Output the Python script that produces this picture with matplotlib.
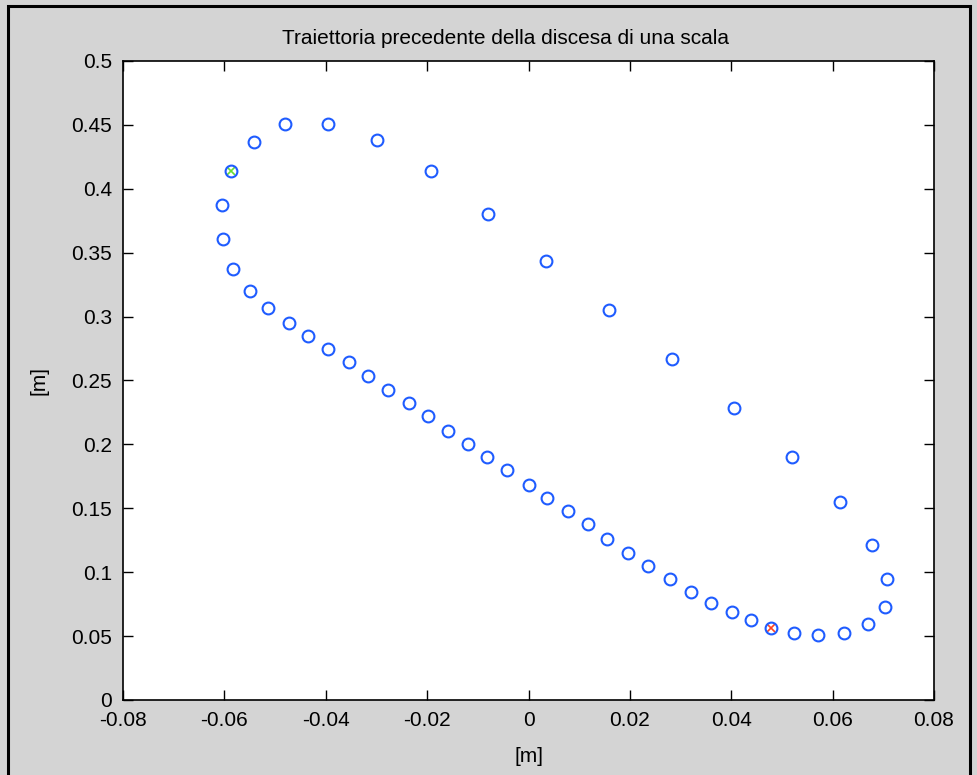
import matplotlib.pyplot as plt
from matplotlib.patches import Rectangle

plt.rcParams['font.family'] = ['Liberation Sans', 'DejaVu Sans']
plt.rcParams['axes.unicode_minus'] = False

# trajectory points, [m]; first one is the green start, index 20 the red one
x_m = [-0.0587, -0.0542, -0.0480, -0.0396, -0.0299, -0.0192, -0.0080, 0.0035,
       0.0159, 0.0283, 0.0405, 0.0519, 0.0615, 0.0678, 0.0707, 0.0703,
       0.0670, 0.0622, 0.0571, 0.0523, 0.0478, 0.0438, 0.0401, 0.0361,
       0.0320, 0.0279, 0.0236, 0.0196, 0.0155, 0.0118, 0.0077, 0.0037,
       0.0000, -0.0042, -0.0082, -0.0119, -0.0159, -0.0199, -0.0236, -0.0277,
       -0.0317, -0.0355, -0.0395, -0.0436, -0.0473, -0.0513, -0.0550, -0.0583,
       -0.0602, -0.0605]
y_m = [0.4139, 0.4369, 0.4505, 0.4505, 0.4384, 0.4139, 0.3803, 0.3435,
       0.3052, 0.2668, 0.2285, 0.1899, 0.1549, 0.1210, 0.0949, 0.0730,
       0.0597, 0.0527, 0.0511, 0.0527, 0.0567, 0.0626, 0.0686, 0.0759,
       0.0847, 0.0947, 0.1051, 0.1153, 0.1257, 0.1375, 0.1477, 0.1578,
       0.1680, 0.1800, 0.1899, 0.2003, 0.2105, 0.2222, 0.2324, 0.2426,
       0.2535, 0.2645, 0.2746, 0.2851, 0.2952, 0.3070, 0.3203, 0.3375,
       0.3607, 0.3872]
start_idx = 0
end_idx = 20

xticks = [-0.08, -0.06, -0.04, -0.02, 0, 0.02, 0.04, 0.06, 0.08]
xtick_labels = ['-0.08', '-0.06', '-0.04', '-0.02', '0', '0.02', '0.04', '0.06', '0.08']
yticks = [0, 0.05, 0.1, 0.15, 0.2, 0.25, 0.3, 0.35, 0.4, 0.45, 0.5]
ytick_labels = ['0', '0.05', '0.1', '0.15', '0.2', '0.25', '0.3', '0.35', '0.4', '0.45', '0.5']

fig = plt.figure(figsize=(9.78, 7.75), dpi=100, facecolor='#d4d4d4')
ax = fig.add_axes([0.1258, 0.0968, 0.8292, 0.8245])

ax.plot(x_m[start_idx], y_m[start_idx], 'x', color='#66dd33', ms=6, mew=1.2)
ax.plot(x_m[end_idx], y_m[end_idx], 'x', color='#ff4422', ms=6, mew=1.2)
ax.plot(x_m, y_m, 'o', ls='none', mfc='none', mec='#1f5cff', ms=8.5, mew=1.5)

ax.set_xlim(-0.08, 0.08)
ax.set_ylim(0, 0.5)
ax.set_xticks(xticks)
ax.set_xticklabels(xtick_labels)
ax.set_yticks(yticks)
ax.set_yticklabels(ytick_labels)
ax.tick_params(direction='in', length=7, width=1, top=True, right=True,
               labelsize=15, colors='black')
ax.tick_params(axis='x', pad=8)
ax.tick_params(axis='y', pad=8)
for s in ax.spines.values():
    s.set_linewidth(1.2)

ax.set_title('Traiettoria precedente della discesa di una scala', fontsize=15,
             pad=12, x=0.472)
ax.set_xlabel('[m]', fontsize=15, labelpad=12)
ax.set_ylabel('[m]', fontsize=15, labelpad=16)

# frame around the window
fig.patches.append(Rectangle((8 / 978, -0.01), (970 - 8) / 978, 1.0 - 6 / 775 + 0.01,
                             transform=fig.transFigure, fill=False,
                             edgecolor='black', lw=2.2))

fig.savefig('out.png', dpi=100, facecolor=fig.get_facecolor())
